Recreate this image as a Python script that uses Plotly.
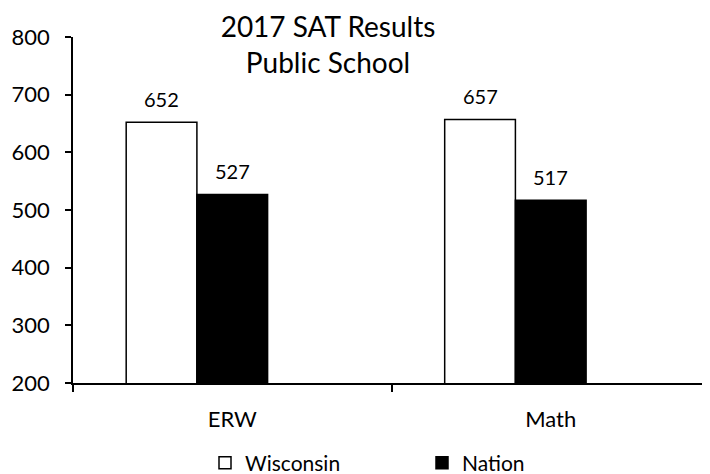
import plotly.graph_objects as go

categories = ["ERW", "Math"]
wisconsin = [652, 657]
nation = [527, 517]
series_names = ["Wisconsin", "Nation"]
y_ticks = [200, 300, 400, 500, 600, 700, 800]

FONT = "Lato, Carlito, 'Open Sans', sans-serif"
BAR_W = 0.222   # three slots per category (third slot empty, as in the source)

W, H = 702, 466
L, R, T, B = 65, 0, 29, 91
PW = W - L - R
PH = H - T - B

fig = go.Figure()
fig.add_trace(go.Bar(
    x=categories, y=wisconsin, name=series_names[0],
    width=BAR_W, offset=-1.5 * BAR_W,
    marker=dict(color="white", line=dict(color="black", width=1.5)),
    legend="legend", showlegend=True,
))
fig.add_trace(go.Bar(
    x=categories, y=nation, name=series_names[1],
    width=BAR_W, offset=-0.5 * BAR_W,
    marker=dict(color="black", line=dict(color="black", width=1.5)),
    legend="legend2", showlegend=True,
))

annotations = []
for shift, vals in ((-BAR_W, wisconsin), (0.0, nation)):
    for i, v in enumerate(vals):
        annotations.append(dict(
            x=i + shift, y=v, xref="x", yref="y", text=str(v),
            showarrow=False, yanchor="bottom", yshift=9,
            font=dict(family=FONT, size=20, color="black"),
        ))

leg_common = dict(
    orientation="h", yanchor="middle", xanchor="left",
    font=dict(family=FONT, size=21, color="black"),
    bgcolor="rgba(0,0,0,0)", visible=True,
)

fig.update_layout(
    width=W, height=H,
    showlegend=True,
    margin=dict(l=L, r=R, t=T, b=B, autoexpand=False),
    paper_bgcolor="white", plot_bgcolor="white",
    barmode="overlay",
    font=dict(family=FONT, color="black"),
    title=dict(
        text="2017 SAT Results<br>Public School",
        x=320 / W, xanchor="center", xref="container",
        y=1 - 29 / H, yanchor="middle", yref="container",
        font=dict(family=FONT, size=28, color="black"),
    ),
    xaxis=dict(
        type="category", range=[-0.5, 1.5],
        showline=True, linecolor="black", linewidth=1.5,
        ticks="outside", tickson="boundaries", ticklen=7, tickwidth=1.5, tickcolor="black",
        tickfont=dict(family=FONT, size=22, color="black"),
        ticklabelstandoff=16, showgrid=False, zeroline=False,
    ),
    yaxis=dict(
        range=[200, 800], tickvals=y_ticks,
        showline=True, linecolor="black", linewidth=1.5,
        ticks="outside", ticklen=6, tickwidth=1.5, tickcolor="black",
        tickfont=dict(family=FONT, size=22, color="black"),
        ticklabelstandoff=11, showgrid=False, zeroline=False,
    ),
    legend=dict(x=(197 - L) / PW, y=(PH - (455 - T)) / PH, **leg_common),
    legend2=dict(x=(414 - L) / PW, y=(PH - (455 - T)) / PH, **leg_common),
    annotations=annotations,
)

fig.write_html("out.html")
